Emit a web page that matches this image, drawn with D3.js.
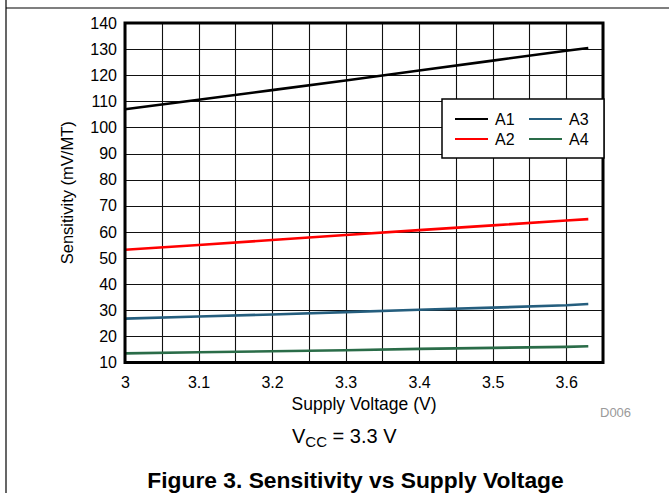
<!DOCTYPE html>
<html>
<head>
<meta charset="utf-8">
<script src="https://cdn.jsdelivr.net/npm/d3@7"></script>
<style>
  html, body { margin: 0; padding: 0; background: #fff; }
  svg { display: block; font-family: "Liberation Sans", Arial, sans-serif; }
</style>
</head>
<body>
<svg id="chart" width="669" height="493"></svg>
<script>
// ---- data ----
const voltages = [3.0, 3.1, 3.2, 3.3, 3.4, 3.5, 3.6, 3.63];
const seriesNames = ["A1", "A2", "A3", "A4"];
const a1 = [107.0, 110.6, 114.3, 118.0, 121.8, 125.6, 129.4, 130.4];
const a2 = [53.2, 55.0, 56.9, 58.8, 60.7, 62.5, 64.4, 64.9];
const a3 = [26.8, 27.6, 28.4, 29.3, 30.2, 31.0, 31.9, 32.4];
const a4 = [13.5, 13.9, 14.3, 14.7, 15.2, 15.6, 16.0, 16.2];
const seriesColors = ["#000000", "#ff0000", "#255e7e", "#2a6c48"];
const xTicks = [3, 3.1, 3.2, 3.3, 3.4, 3.5, 3.6];
const yTicks = [10, 20, 30, 40, 50, 60, 70, 80, 90, 100, 110, 120, 130, 140];
const xGrid = d3.range(0, 14).map(i => 3 + i * 0.05);

const svg = d3.select("#chart");

// page frame
svg.append("line").attr("x1", 6).attr("x2", 6).attr("y1", 0).attr("y2", 493)
  .attr("stroke", "#000").attr("stroke-width", 1.2);
svg.append("line").attr("x1", 6).attr("x2", 669).attr("y1", 8).attr("y2", 8)
  .attr("stroke", "#000").attr("stroke-width", 1.2);

const L = 125, R = 603, T = 23, B = 362.5;
const x = d3.scaleLinear().domain([3, 3.65]).range([L, R]);
const y = d3.scaleLinear().domain([10, 140]).range([B, T]);

// grid
const g = svg.append("g");
g.selectAll(".vg").data(xGrid).enter().append("line")
  .attr("x1", d => Math.round(x(d)) + 0.5).attr("x2", d => Math.round(x(d)) + 0.5)
  .attr("y1", T).attr("y2", B).attr("stroke", "#111").attr("stroke-width", 1.1);
g.selectAll(".hg").data(yTicks).enter().append("line")
  .attr("x1", L).attr("x2", R)
  .attr("y1", d => Math.round(y(d)) + 0.5).attr("y2", d => Math.round(y(d)) + 0.5)
  .attr("stroke", "#111").attr("stroke-width", 1.1);

// axes (labels only)
const xAxis = svg.append("g").attr("transform", `translate(0,${B})`)
  .call(d3.axisBottom(x).tickValues(xTicks).tickFormat(d3.format("")).tickSize(0).tickPadding(14));
xAxis.select(".domain").remove();
xAxis.selectAll("text").attr("font-size", 16).attr("fill", "#000")
  .attr("font-family", "Liberation Sans, Arial, sans-serif");

const yAxis = svg.append("g").attr("transform", `translate(${L},0)`)
  .call(d3.axisLeft(y).tickValues(yTicks).tickSize(0).tickPadding(8));
yAxis.select(".domain").remove();
yAxis.selectAll("text").attr("font-size", 16).attr("fill", "#000")
  .attr("font-family", "Liberation Sans, Arial, sans-serif");

// lines
const allSeries = [a1, a2, a3, a4];
const line = d3.line().x((d, i) => x(voltages[i])).y(d => y(d));
svg.append("g").selectAll("path").data(allSeries).enter().append("path")
  .attr("d", d => line(d)).attr("fill", "none")
  .attr("stroke", (d, i) => seriesColors[i]).attr("stroke-width", 2.6);

// plot border
svg.append("rect").attr("x", L).attr("y", T).attr("width", R - L).attr("height", B - T)
  .attr("fill", "none").attr("stroke", "#000").attr("stroke-width", 3);

// legend
const lg = svg.append("g");
lg.append("rect").attr("x", 442).attr("y", 99).attr("width", 162).attr("height", 59)
  .attr("fill", "#fff").attr("stroke", "#000").attr("stroke-width", 1.5);
const legPos = [[455, 119], [455, 139], [529, 119], [529, 139]];
seriesNames.forEach((name, i) => {
  const [lx, ly] = legPos[i];
  lg.append("line").attr("x1", lx).attr("x2", lx + 33).attr("y1", ly).attr("y2", ly)
    .attr("stroke", seriesColors[i]).attr("stroke-width", 2.2);
  lg.append("text").attr("x", lx + 40).attr("y", ly + 6).attr("font-size", 16)
    .attr("fill", "#000").text(name);
});

// axis titles
svg.append("text").attr("x", 364).attr("y", 410).attr("text-anchor", "middle")
  .attr("font-size", 17.5).attr("fill", "#000").text("Supply Voltage (V)");
svg.append("text").attr("transform", `translate(73,${(T + B) / 2}) rotate(-90)`)
  .attr("text-anchor", "middle").attr("font-size", 16.5).attr("fill", "#000")
  .text("Sensitivity (mV/MT)");

// D006
svg.append("text").attr("x", 600).attr("y", 417).attr("font-size", 13)
  .attr("fill", "#9a9a9a").text("D006");

// Vcc note
const vt = svg.append("text").attr("x", 292).attr("y", 443).attr("font-size", 20).attr("fill", "#000");
vt.append("tspan").text("V");
vt.append("tspan").attr("font-size", 15).attr("dy", 4).text("CC");
vt.append("tspan").attr("dy", -4).text(" = 3.3 V");

// figure caption
svg.append("text").attr("x", 355.5).attr("y", 488).attr("text-anchor", "middle")
  .attr("font-size", 22.8).attr("font-weight", "bold").attr("fill", "#000")
  .text("Figure 3. Sensitivity vs Supply Voltage");
</script>
</body>
</html>
